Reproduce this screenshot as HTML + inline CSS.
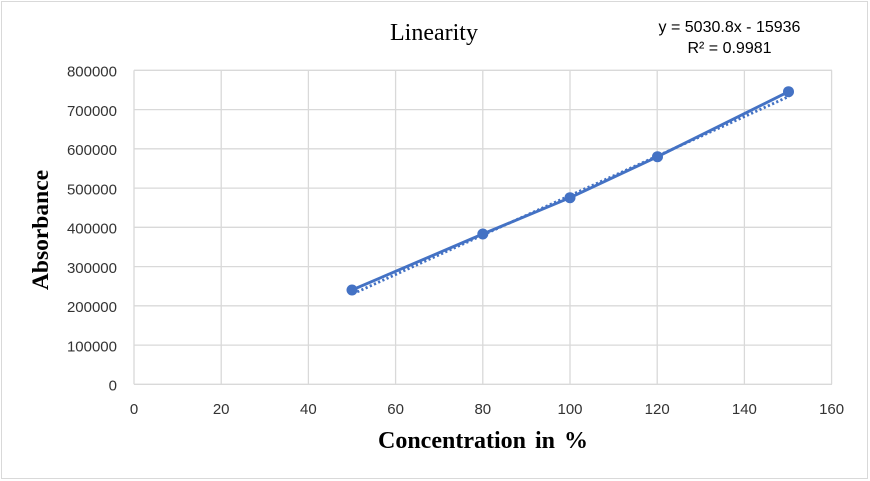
<!DOCTYPE html>
<html>
<head>
<meta charset="utf-8">
<style>
  html,body{margin:0;padding:0;background:#fff;}
  svg{display:block;}
</style>
</head>
<body>
<svg width="870" height="481" viewBox="0 0 870 481" xmlns="http://www.w3.org/2000/svg">
  <rect x="0" y="0" width="870" height="481" fill="#fff"/>
  <rect x="1.5" y="1.5" width="866" height="477" fill="none" stroke="#d9d9d9" stroke-width="1"/>

  <!-- gridlines -->
  <g stroke="#d9d9d9" stroke-width="1.3">
    <line x1="134" y1="70.3" x2="832" y2="70.3"/>
    <line x1="134" y1="109.6" x2="832" y2="109.6"/>
    <line x1="134" y1="148.8" x2="832" y2="148.8"/>
    <line x1="134" y1="188.1" x2="832" y2="188.1"/>
    <line x1="134" y1="227.3" x2="832" y2="227.3"/>
    <line x1="134" y1="266.6" x2="832" y2="266.6"/>
    <line x1="134" y1="305.8" x2="832" y2="305.8"/>
    <line x1="134" y1="345.1" x2="832" y2="345.1"/>
    <line x1="134" y1="384.3" x2="832" y2="384.3"/>
    <line x1="134" y1="70.3" x2="134" y2="384.3"/>
    <line x1="221.2" y1="70.3" x2="221.2" y2="384.3"/>
    <line x1="308.4" y1="70.3" x2="308.4" y2="384.3"/>
    <line x1="395.6" y1="70.3" x2="395.6" y2="384.3"/>
    <line x1="482.8" y1="70.3" x2="482.8" y2="384.3"/>
    <line x1="570" y1="70.3" x2="570" y2="384.3"/>
    <line x1="657.2" y1="70.3" x2="657.2" y2="384.3"/>
    <line x1="744.4" y1="70.3" x2="744.4" y2="384.3"/>
    <line x1="831.6" y1="70.3" x2="831.6" y2="384.3"/>
  </g>

  <!-- y tick labels -->
  <g font-family="'Liberation Sans', sans-serif" font-size="15" fill="#333" text-anchor="end">
    <text x="117" y="76.5">800000</text>
    <text x="117" y="115.8">700000</text>
    <text x="117" y="155">600000</text>
    <text x="117" y="194.3">500000</text>
    <text x="117" y="233.5">400000</text>
    <text x="117" y="272.8">300000</text>
    <text x="117" y="312">200000</text>
    <text x="117" y="351.3">100000</text>
    <text x="117" y="390.5">0</text>
  </g>

  <!-- x tick labels -->
  <g font-family="'Liberation Sans', sans-serif" font-size="15" fill="#333" text-anchor="middle">
    <text x="134" y="414">0</text>
    <text x="221.2" y="414">20</text>
    <text x="308.4" y="414">40</text>
    <text x="395.6" y="414">60</text>
    <text x="482.8" y="414">80</text>
    <text x="570" y="414">100</text>
    <text x="657.2" y="414">120</text>
    <text x="744.4" y="414">140</text>
    <text x="831.6" y="414">160</text>
  </g>

  <!-- title -->
  <text x="434" y="40" font-family="'Liberation Serif', serif" font-size="24" fill="#000" text-anchor="middle">Linearity</text>

  <!-- axis titles -->
  <text x="483" y="448" font-family="'Liberation Serif', serif" font-size="24" font-weight="bold" fill="#000" text-anchor="middle" word-spacing="3">Concentration in %</text>
  <text transform="translate(48,230) rotate(-90)" x="0" y="0" font-family="'Liberation Serif', serif" font-size="23.5" font-weight="bold" fill="#000" text-anchor="middle">Absorbance</text>

  <!-- equation -->
  <g font-family="'Liberation Sans', sans-serif" font-size="16" fill="#000" text-anchor="middle">
    <text x="729.5" y="32">y = 5030.8x - 15936</text>
    <text x="729.5" y="53">R² = 0.9981</text>
  </g>

  <!-- trendline (dotted) -->
  <line x1="353" y1="293.8" x2="789" y2="96.4" stroke="#4472c4" stroke-width="2.8" stroke-dasharray="2.2 2.4"/>

  <!-- series line -->
  <polyline points="352,290 482.8,234 570,197.7 657.5,156.7 788.5,91.7" fill="none" stroke="#4472c4" stroke-width="2.9" stroke-linejoin="round"/>

  <!-- markers -->
  <g fill="#4472c4">
    <circle cx="352" cy="290" r="5.5"/>
    <circle cx="482.8" cy="234" r="5.5"/>
    <circle cx="570" cy="197.7" r="5.5"/>
    <circle cx="657.5" cy="156.7" r="5.5"/>
    <circle cx="788.5" cy="91.7" r="5.5"/>
  </g>
</svg>
</body>
</html>
